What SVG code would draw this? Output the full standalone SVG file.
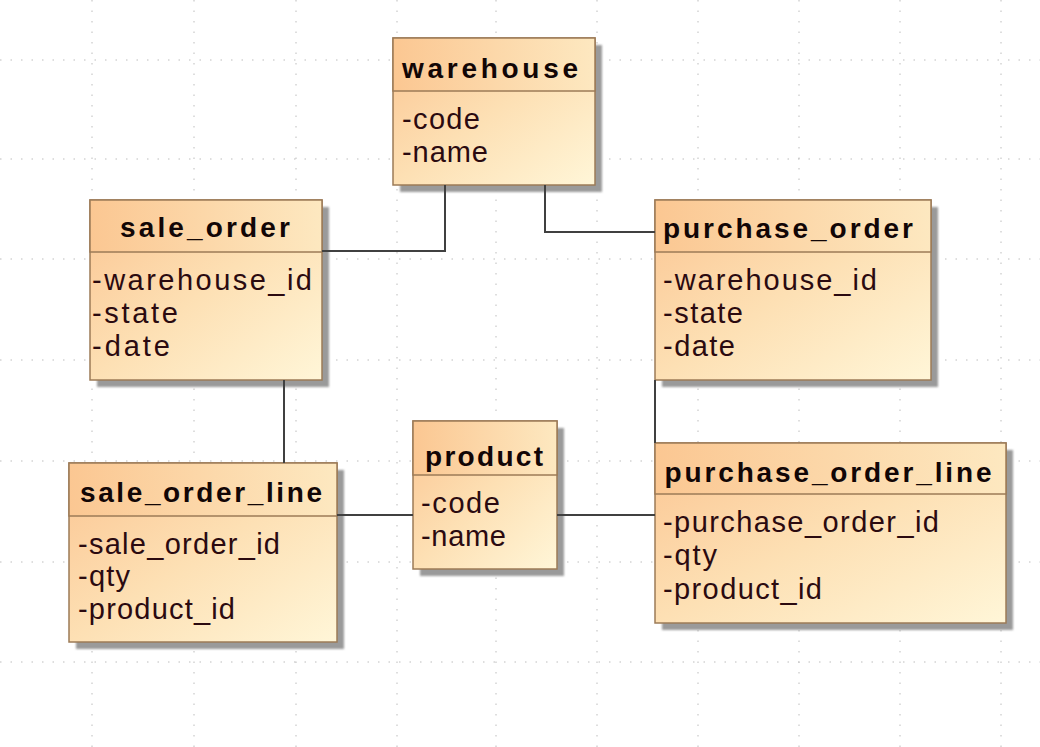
<svg xmlns="http://www.w3.org/2000/svg" width="1040" height="747" viewBox="0 0 1040 747">
<style>
.grid line{stroke:#bdbdbd;stroke-width:1;stroke-dasharray:1.5 9}
.shadow{fill:#9a9a9a;filter:url(#blur)}
.hdr{fill:url(#gHdr);stroke:#9c7b57;stroke-width:1.5}
.body{fill:url(#gBody);stroke:#9c7b57;stroke-width:1.5}
.title{font-family:"Liberation Sans",Arial,sans-serif;font-weight:bold;font-size:28px;fill:#120606;text-anchor:middle}
.attr{font-family:"Liberation Sans",Arial,sans-serif;font-size:29px;fill:#2b0a10}
.conn path{fill:none;stroke:#404040;stroke-width:2}
</style>
<defs>
<linearGradient id="gHdr" x1="0" y1="0" x2="1" y2="0">
<stop offset="0" stop-color="#fbc792"/>
<stop offset="1" stop-color="#fde8c0"/>
</linearGradient>
<linearGradient id="gBody" x1="0" y1="0" x2="1" y2="1">
<stop offset="0" stop-color="#fbc592"/>
<stop offset="0.5" stop-color="#fde0b4"/>
<stop offset="1" stop-color="#fff6d8"/>
</linearGradient>
<filter id="blur" x="-10%" y="-10%" width="120%" height="120%">
<feGaussianBlur stdDeviation="1.2"/>
</filter>
</defs>
<rect width="1040" height="747" fill="#ffffff"/>
<g class="grid">
<line x1="92" y1="0" x2="92" y2="747"/>
<line x1="194" y1="0" x2="194" y2="747"/>
<line x1="296" y1="0" x2="296" y2="747"/>
<line x1="397" y1="0" x2="397" y2="747"/>
<line x1="496" y1="0" x2="496" y2="747"/>
<line x1="597" y1="0" x2="597" y2="747"/>
<line x1="698" y1="0" x2="698" y2="747"/>
<line x1="799" y1="0" x2="799" y2="747"/>
<line x1="900" y1="0" x2="900" y2="747"/>
<line x1="1001" y1="0" x2="1001" y2="747"/>
<line x1="0" y1="60" x2="1040" y2="60"/>
<line x1="0" y1="159" x2="1040" y2="159"/>
<line x1="0" y1="259" x2="1040" y2="259"/>
<line x1="0" y1="360" x2="1040" y2="360"/>
<line x1="0" y1="461" x2="1040" y2="461"/>
<line x1="0" y1="562" x2="1040" y2="562"/>
<line x1="0" y1="662" x2="1040" y2="662"/>
</g>
<g id="warehouse">
<rect class="shadow" x="400" y="45" width="202" height="147"/>
<rect class="body" x="393" y="38" width="202" height="147"/>
<rect class="hdr" x="393" y="38" width="202" height="53"/>
<text class="title" x="490" y="78" textLength="176" lengthAdjust="spacing">warehouse</text>
<text class="attr" x="402" y="129" textLength="78" lengthAdjust="spacing">-code</text>
<text class="attr" x="402" y="162" textLength="86" lengthAdjust="spacing">-name</text>
</g>
<g id="sale_order">
<rect class="shadow" x="97" y="207" width="232" height="180"/>
<rect class="body" x="90" y="200" width="232" height="180"/>
<rect class="hdr" x="90" y="200" width="232" height="52"/>
<text class="title" x="205" y="237" textLength="170" lengthAdjust="spacing">sale_order</text>
<text class="attr" x="92" y="290" textLength="220" lengthAdjust="spacing">-warehouse_id</text>
<text class="attr" x="92" y="323" textLength="86" lengthAdjust="spacing">-state</text>
<text class="attr" x="92" y="356" textLength="78" lengthAdjust="spacing">-date</text>
</g>
<g id="purchase_order">
<rect class="shadow" x="662" y="207" width="276" height="180"/>
<rect class="body" x="655" y="200" width="276" height="180"/>
<rect class="hdr" x="655" y="200" width="276" height="52"/>
<text class="title" x="788" y="238" textLength="250" lengthAdjust="spacing">purchase_order</text>
<text class="attr" x="663" y="290" textLength="214" lengthAdjust="spacing">-warehouse_id</text>
<text class="attr" x="663" y="323" textLength="80" lengthAdjust="spacing">-state</text>
<text class="attr" x="663" y="356" textLength="72" lengthAdjust="spacing">-date</text>
</g>
<g id="product">
<rect class="shadow" x="420" y="428" width="144" height="148"/>
<rect class="body" x="413" y="421" width="144" height="148"/>
<rect class="hdr" x="413" y="421" width="144" height="54"/>
<text class="title" x="484" y="466" textLength="118" lengthAdjust="spacing">product</text>
<text class="attr" x="421" y="513" textLength="79" lengthAdjust="spacing">-code</text>
<text class="attr" x="421" y="546" textLength="85" lengthAdjust="spacing">-name</text>
</g>
<g id="sale_order_line">
<rect class="shadow" x="76" y="470" width="268" height="179"/>
<rect class="body" x="69" y="463" width="268" height="179"/>
<rect class="hdr" x="69" y="463" width="268" height="53"/>
<text class="title" x="201" y="502" textLength="242" lengthAdjust="spacing">sale_order_line</text>
<text class="attr" x="78" y="554" textLength="202" lengthAdjust="spacing">-sale_order_id</text>
<text class="attr" x="78" y="586" textLength="52" lengthAdjust="spacing">-qty</text>
<text class="attr" x="78" y="619" textLength="157" lengthAdjust="spacing">-product_id</text>
</g>
<g id="purchase_order_line">
<rect class="shadow" x="662" y="450" width="351" height="180"/>
<rect class="body" x="655" y="443" width="351" height="180"/>
<rect class="hdr" x="655" y="443" width="351" height="51"/>
<text class="title" x="828" y="482" textLength="327" lengthAdjust="spacing">purchase_order_line</text>
<text class="attr" x="663" y="532" textLength="276" lengthAdjust="spacing">-purchase_order_id</text>
<text class="attr" x="663" y="565" textLength="54" lengthAdjust="spacing">-qty</text>
<text class="attr" x="663" y="599" textLength="159" lengthAdjust="spacing">-product_id</text>
</g>
<g id="connectors" class="conn">
<path d="M445 185 V251 H322"/>
<path d="M545 185 V232 H655"/>
<path d="M284 380 V463"/>
<path d="M655 380 V443"/>
<path d="M337 515 H413"/>
<path d="M557 515 H655"/>
</g>
</svg>
